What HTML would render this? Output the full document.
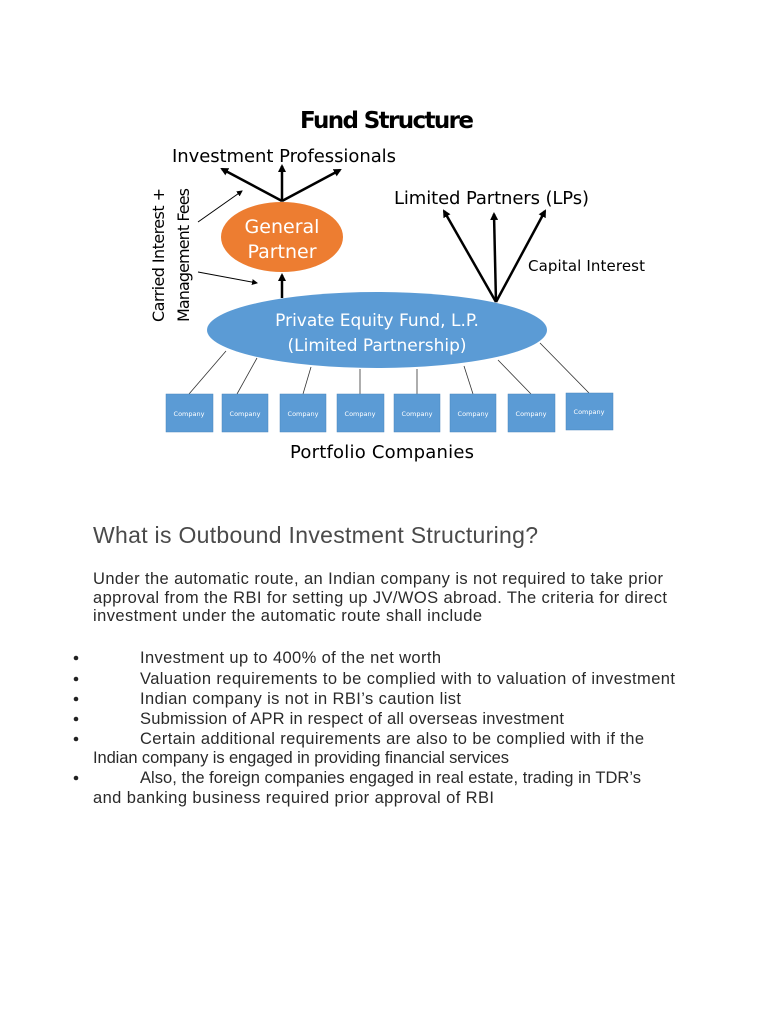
<!DOCTYPE html>
<html><head><meta charset="utf-8"><style>
html,body{margin:0;padding:0;background:#fff;}
svg{display:block;}
.c{font-family:"DejaVu Sans","Liberation Sans",sans-serif;}
.t{font-family:"Liberation Sans",Arial,sans-serif;fill:#2a2a2a;font-size:16.5px;}
</style></head><body>
<svg width="768" height="1024" viewBox="0 0 768 1024" xmlns="http://www.w3.org/2000/svg">
<defs>
<marker id="a" markerWidth="8" markerHeight="8" refX="6" refY="4" orient="auto" markerUnits="userSpaceOnUse"><path d="M0,0 L8,4 L0,8 z" fill="#000"/></marker>
<marker id="s" markerWidth="6" markerHeight="6" refX="5" refY="3" orient="auto" markerUnits="userSpaceOnUse"><path d="M0,0 L6,3 L0,6 z" fill="#000"/></marker>
</defs>
<text x="387" y="128" text-anchor="middle" class="c" font-weight="bold" font-size="23" textLength="174" fill="#000">Fund Structure</text>
<text x="172" y="162" class="c" font-size="18" textLength="224" fill="#000">Investment Professionals</text>
<g stroke="#000" stroke-width="2.5" fill="none">
<line x1="282" y1="201" x2="222" y2="169" marker-end="url(#a)"/>
<line x1="282" y1="201" x2="282" y2="166" marker-end="url(#a)"/>
<line x1="282" y1="201" x2="340" y2="170" marker-end="url(#a)"/>
<line x1="282" y1="298" x2="282" y2="275" marker-end="url(#a)"/>
<line x1="496" y1="302" x2="444" y2="211" marker-end="url(#a)"/>
<line x1="496" y1="302" x2="494" y2="214" marker-end="url(#a)"/>
<line x1="496" y1="302" x2="545" y2="211" marker-end="url(#a)"/>
</g>
<g stroke="#000" stroke-width="1" fill="none">
<line x1="198" y1="222" x2="242" y2="191" marker-end="url(#s)"/>
<line x1="198" y1="272" x2="257" y2="283" marker-end="url(#s)"/>
</g>
<ellipse cx="282" cy="237" rx="61" ry="35" fill="#ED7D31"/>
<text x="282" y="233" text-anchor="middle" class="c" font-size="19" fill="#fff">General</text>
<text x="282" y="258" text-anchor="middle" class="c" font-size="19" fill="#fff">Partner</text>
<text x="394" y="204" class="c" font-size="18" textLength="195" fill="#000">Limited Partners (LPs)</text>
<text x="528" y="271" class="c" font-size="15" textLength="117" fill="#000">Capital Interest</text>
<text transform="translate(164,322) rotate(-90)" class="c" font-size="16" textLength="134" fill="#000">Carried Interest +</text>
<text transform="translate(189,322) rotate(-90)" class="c" font-size="16" textLength="134" fill="#000">Management Fees</text>
<g stroke="#333" stroke-width="0.8">
<line x1="226" y1="351" x2="189" y2="394"/>
<line x1="257" y1="358" x2="237" y2="394"/>
<line x1="311" y1="367" x2="303" y2="394"/>
<line x1="360" y1="369" x2="360" y2="394"/>
<line x1="417" y1="369" x2="417" y2="394"/>
<line x1="464" y1="366" x2="473" y2="394"/>
<line x1="498" y1="360" x2="531" y2="394"/>
<line x1="540" y1="343" x2="589" y2="393"/>
</g>
<ellipse cx="377" cy="330" rx="170" ry="38" fill="#5B9BD5"/>
<text x="377" y="326" text-anchor="middle" class="c" font-size="17" fill="#fff">Private Equity Fund, L.P.</text>
<text x="377" y="351" text-anchor="middle" class="c" font-size="17" fill="#fff">(Limited Partnership)</text>
<g fill="#5B9BD5" stroke="#4a86bd" stroke-width="0.5">
<rect x="166" y="394" width="47" height="38"/>
<rect x="222" y="394" width="46" height="38"/>
<rect x="280" y="394" width="46" height="38"/>
<rect x="337" y="394" width="47" height="38"/>
<rect x="394" y="394" width="46" height="38"/>
<rect x="450" y="394" width="46" height="38"/>
<rect x="508" y="394" width="47" height="38"/>
<rect x="566" y="393" width="47" height="37"/>
</g>
<g class="c" font-size="6.5" fill="#fff" text-anchor="middle">
<text x="189" y="416">Company</text><text x="245" y="416">Company</text><text x="303" y="416">Company</text><text x="360" y="416">Company</text>
<text x="417" y="416">Company</text><text x="473" y="416">Company</text><text x="531" y="416">Company</text><text x="589" y="414">Company</text>
</g>
<text x="382" y="458" text-anchor="middle" class="c" font-size="18" textLength="184" fill="#000">Portfolio Companies</text>

<text x="93" y="543" font-family="Liberation Sans,Arial,sans-serif" font-size="23" fill="#4a4a4a" textLength="445">What is Outbound Investment Structuring?</text>
<text x="93" y="584" class="t" textLength="570">Under the automatic route, an Indian company is not required to take prior</text>
<text x="93" y="603" class="t" textLength="574">approval from the RBI for setting up JV/WOS abroad. The criteria for direct</text>
<text x="93" y="621" class="t" textLength="389">investment under the automatic route shall include</text>
<g fill="#222"><circle cx="76" cy="658" r="2.3"/><circle cx="76" cy="679" r="2.3"/><circle cx="76" cy="699" r="2.3"/><circle cx="76" cy="719" r="2.3"/><circle cx="76" cy="739" r="2.3"/><circle cx="76" cy="778" r="2.3"/></g>
<text x="140" y="663" class="t" textLength="301">Investment up to 400% of the net worth</text>
<text x="140" y="684" class="t" textLength="535">Valuation requirements to be complied with to valuation of investment</text>
<text x="140" y="704" class="t" textLength="321">Indian company is not in RBI’s caution list</text>
<text x="140" y="724" class="t" textLength="424">Submission of APR in respect of all overseas investment</text>
<text x="140" y="744" class="t" textLength="504">Certain additional requirements are also to be complied with if the</text>
<text x="93" y="763" class="t" textLength="416">Indian company is engaged in providing financial services</text>
<text x="140" y="783" class="t" textLength="501">Also, the foreign companies engaged in real estate, trading in TDR’s</text>
<text x="93" y="803" class="t" textLength="401">and banking business required prior approval of RBI</text>
</svg>
</body></html>
